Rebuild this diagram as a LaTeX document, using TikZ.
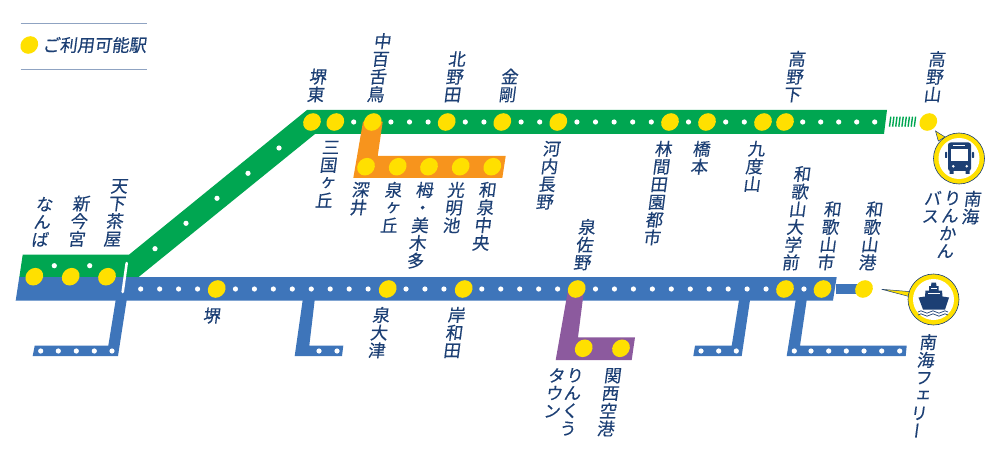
\documentclass[tikz,border=0pt]{standalone}
\usepackage{fontspec}
\setmainfont{Noto Sans CJK JP}[RawFeature=+vert,FakeBold=0.3]
\newfontfamily\hfont{Noto Sans CJK JP}[FakeBold=0.3]
\definecolor{gline}{HTML}{00A651}
\definecolor{bline}{HTML}{3E75BA}
\definecolor{oline}{HTML}{F7941D}
\definecolor{pline}{HTML}{8C5A9E}
\definecolor{stny}{HTML}{FFE000}
\definecolor{navy}{HTML}{1C3F74}
\definecolor{rule}{HTML}{8FA3C2}
\tikzset{
  stn/.style={circle,fill=stny,minimum size=17.6pt,inner sep=0pt,xslant=.13,transform shape},
  lab/.style={text=navy,inner sep=0pt,align=center,font=\fontsize{17.3}{17.7}\selectfont,xslant=.13,transform shape},
  dotw/.style={fill=white},
}
\begin{document}
\begin{tikzpicture}[x=1pt,y=-1pt]
\useasboundingbox (0,0) rectangle (1003,457);
% legend
\draw[rule,line width=1.2pt] (20.7,23.7) -- (146.7,23.7);
\draw[rule,line width=1.2pt] (20.7,69.7) -- (146.7,69.7);
\node[stn] (legend) at (29.3,45) {};
\node[lab,anchor=west,font=\hfont\fontsize{17.3}{18}\selectfont] (legendtext) at (43,45) {ご利用可能駅};
% green line
\fill[gline] (22.7,254.7) -- (129,254.7) -- (307,110) -- (887,110) -- (884,134) -- (315,134) -- (138,277.5) -- (19.3,277.5) -- cycle;
% blue line
\fill[bline] (19.3,277) -- (836.7,277) -- (833,300.5) -- (15.7,300.5) -- cycle;
\fill[bline] (836,283.5) rectangle (862,294);
% blue branches
\fill[bline] (115.7,300) -- (126.7,300) -- (118,356) -- (32.7,356) -- (34.7,345.7) -- (108.3,345.7) -- cycle;
\fill[bline] (302.7,300) -- (314.7,300) -- (309.3,345.7) -- (343.3,345.7) -- (342,356) -- (294.7,356) -- cycle;
\fill[bline] (739,300) -- (750,300) -- (741.7,356) -- (693.3,356) -- (695,345.7) -- (731.7,345.7) -- cycle;
\fill[bline] (795.7,300) -- (806.7,300) -- (800,345.7) -- (906.7,345.7) -- (905.7,356) -- (786.7,356) -- cycle;
% orange and purple
\fill[oline] (363,121.7) -- (382.7,121.7) -- (377.7,156) -- (505.7,156) -- (502.3,178) -- (353.3,178) -- cycle;
\fill[pline] (568,290) -- (584,290) -- (578,337.3) -- (635,337.3) -- (631.7,360) -- (555.7,360) -- cycle;
% divider
\draw[white,line width=2.6pt,line cap=round] (126.7,263) -- (122.7,292);
% ticks to Koyasan
\foreach \i in {0,...,8} \draw[gline,line width=1.4pt] (889.5+3.1*\i,126.7) -- (890.8+3.1*\i,116.7);
% white dots
\foreach \x in {353.7,390.9,409.5,428.1,465.3,483.9,521.1,539.7,576.9,595.5,614.1,632.7,651.3,688.5,725.7,744.3,802.7,820.7,838.7,856.7,874.7}
  \fill[dotw] (\x,122) circle (2.6);
\foreach \x/\y in {155/248.7,186/223.3,217/198.3,248/173.3,279/148,54.3/265.7,89.7/265.7}
  \fill[dotw] (\x,\y) circle (2.6);
\foreach \k in {0,1,2,3,5,6,7,8,9,10,11,12,14,15,16,18,19,20,21,22,24,25,26,27,28,29,30,31,32,33,35}
  \fill[dotw] ({140.7+18.95*\k},289) circle (2.6);
\foreach \x in {40.7,58.3,76.3,94.3,112,319,337,701,718.7,736.3,794.3,811,828.7,846.3,864,881.7,899.7}
  \fill[dotw] (\x,351) circle (2.6);
% stations: left
\node[stn] (sNamba) at (34.3,276.7) {};
\node[stn] (sShinimamiya) at (70.7,276.7) {};
\node[stn] (sTengachaya) at (107,276.7) {};
% stations: Koya line
\node[stn] (sSakaihigashi) at (312,122) {};
\node[stn] (sMikunigaoka) at (335.3,122) {};
\node[stn] (sMozu) at (372.7,122) {};
\node[stn] (sKitanoda) at (446.7,122) {};
\node[stn] (sKongo) at (502.3,122) {};
\node[stn] (sKawachinagano) at (558.3,122) {};
\node[stn] (sRinkanden) at (670,122) {};
\node[stn] (sHashimoto) at (707,122) {};
\node[stn] (sKudoyama) at (763,122) {};
\node[stn] (sKoyashita) at (785,122) {};
\node[stn] (sKoyasan) at (928.3,122) {};
% stations: Semboku
\node[stn] (sFukai) at (366,166.7) {};
\node[stn] (sIzumigaoka) at (397.7,166.7) {};
\node[stn] (sToga) at (429,166.7) {};
\node[stn] (sKomyoike) at (460.7,166.7) {};
\node[stn] (sIzumichuo) at (492.3,166.7) {};
% stations: Nankai main
\node[stn] (sSakai) at (216.7,289) {};
\node[stn] (sIzumiotsu) at (387.7,289) {};
\node[stn] (sKishiwada) at (463.7,289) {};
\node[stn] (sIzumisano) at (576.7,289) {};
\node[stn] (sWakayamaU) at (785,289) {};
\node[stn] (sWakayamashi) at (822.5,289) {};
\node[stn] (sWakayamako) at (864,289) {};
\node[stn] (sRinku) at (583.7,348.3) {};
\node[stn] (sKix) at (621,348.3) {};
% labels above
\node[lab,anchor=south] (lNamba) at (39.3,247) {な\\ん\\ば};
\node[lab,anchor=south] (lShin) at (76,247) {新\\今\\宮};
\node[lab,anchor=south] (lTenga) at (111.7,247) {天\\下\\茶\\屋};
\node[lab,anchor=south] (lSakaiH) at (315,102.5) {堺\\東};
\node[lab,anchor=south] (lMozu) at (375,102.5) {中\\百\\舌\\鳥};
\node[lab,anchor=south] (lKitanoda) at (451.7,102.5) {北\\野\\田};
\node[lab,anchor=south] (lKongo) at (506.7,102.5) {金\\剛};
\node[lab,anchor=south] (lKoyashita) at (791.7,102.5) {高\\野\\下};
\node[lab,anchor=south] (lKoyasan) at (931.7,102.5) {高\\野\\山};
\node[lab,anchor=south] (lSano) at (581.7,270.5) {泉\\佐\\野};
\node[lab,anchor=south] (lWU) at (790,270.5) {和\\歌\\山\\大\\学\\前};
\node[lab,anchor=south] (lWS) at (825,270.5) {和\\歌\\山\\市};
\node[lab,anchor=south] (lWK) at (866.7,270.5) {和\\歌\\山\\港};
% labels below
\node[lab,anchor=north] (lMikuni) at (332,140.7) {三\\国\\ヶ\\丘};
\node[lab,anchor=north] (lFukai) at (362,181.7) {深\\井};
\node[lab,anchor=north] (lIzumig) at (395,181.7) {泉\\ヶ\\丘};
\node[lab,anchor=north] (lToga) at (426,181.7) {栂\\・\\美\\木\\多};
\node[lab,anchor=north] (lKomyo) at (457.5,181.7) {光\\明\\池};
\node[lab,anchor=north] (lChuo) at (489,181.7) {和\\泉\\中\\央};
\node[lab,anchor=north] (lKawachi) at (553,140.7) {河\\内\\長\\野};
\node[lab,anchor=north] (lRinkan) at (665,140.7) {林\\間\\田\\園\\都\\市};
\node[lab,anchor=north] (lHashi) at (703,140.7) {橋\\本};
\node[lab,anchor=north] (lKudo) at (758,140.7) {九\\度\\山};
\node[lab] (lSakai) at (212.3,315.7) {堺};
\node[lab,anchor=north] (lOtsu) at (382.7,306.7) {泉\\大\\津};
\node[lab,anchor=north] (lKishi) at (458,306.7) {岸\\和\\田};
\node[lab,anchor=north] (lRinku1) at (576,368) {り\\ん\\く\\う};
\node[lab,anchor=north] (lRinku2) at (558,368) {タ\\ウ\\ン};
\node[lab,anchor=north] (lKix) at (614,368) {関\\西\\空\\港};
\node[lab,anchor=north] (lFerry) at (929.5,334) {南\\海\\フ\\ェ\\リ\\ー};
\node[lab,anchor=north] (lBus1) at (974,190.7) {南\\海};
\node[lab,anchor=north] (lBus2) at (953.5,190.7) {り\\ん\\か\\ん};
\node[lab,anchor=north] (lBus3) at (934,190.7) {バ\\ス};
% bus bubble
\filldraw[fill=stny,draw=navy,line width=.5pt] (935.5,131) -- (938.3,141) -- (945,137) -- cycle;
\node[circle,fill=stny,draw=navy,line width=.6pt,minimum size=51pt,inner sep=0pt] (busring) at (959,158.5) {};
\fill[white] (busring.center) circle (20.5);
\fill[navy,rounded corners=2.5pt] (948,142.5) rectangle (971,171);
\fill[navy] (949.5,170) rectangle (953.5,174) (965.5,170) rectangle (969.5,174);
\fill[navy,rounded corners=.7pt] (945,152) rectangle (947.2,158) (971.8,152) rectangle (974,158);
\fill[white] (951,149) rectangle (968,161.5);
\draw[white,line width=.7pt] (953,145.3) -- (965,145.3);
\fill[white] (953.3,166.3) circle (1.4) (966.7,166.3) circle (1.4);
% ship bubble
\filldraw[fill=stny,draw=navy,line width=.5pt] (881.7,289.3) -- (911,291.7) -- (911,297) -- cycle;
\node[circle,fill=stny,draw=navy,line width=.6pt,minimum size=51pt,inner sep=0pt] (shipring) at (933.5,299.5) {};
\fill[white] (shipring.center) circle (20.5);
\fill[navy] (918.5,297.5) -- (925,296.5) -- (925.5,290.5) -- (929,290.5) -- (929,286) -- (931,286) -- (931.5,282.5) -- (936,282.5) -- (936.5,286) -- (938.5,286) -- (938.5,290.5) -- (942,290.5) -- (942.5,296.5) -- (949,297.5) -- (945,309.5) -- (923,309.5) -- cycle;
\draw[white,line width=.7pt] (928,293.5) -- (940,293.5);
\draw[white,line width=.6pt] (931,288.5) -- (937,288.5);
\foreach \yy in {312,315}
  \draw[navy,line width=.7pt] (918,\yy) .. controls (920,\yy-1.6) and (922,\yy-1.6) .. (924,\yy) .. controls (926,\yy+1.6) and (928,\yy+1.6) .. (930,\yy) .. controls (932,\yy-1.6) and (934,\yy-1.6) .. (936,\yy) .. controls (938,\yy+1.6) and (940,\yy+1.6) .. (942,\yy) .. controls (944,\yy-1.6) and (946,\yy-1.6) .. (948,\yy);
\end{tikzpicture}
\end{document}
